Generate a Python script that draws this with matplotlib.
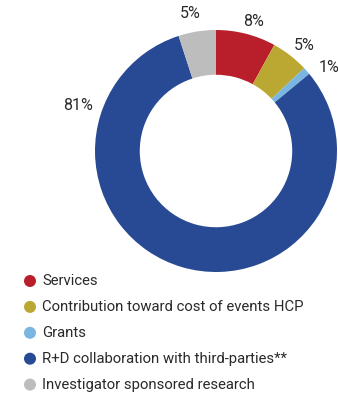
import matplotlib
matplotlib.use("Agg")
import matplotlib.pyplot as plt
import matplotlib.patches as mpatches

categories = ["Services", "Contribution toward cost of events HCP", "Grants",
              "R+D collaboration with third-parties**", "Investigator sponsored research"]
values = [8, 5, 1, 81, 5]
labels = ["8%", "5%", "1%", "81%", "5%"]
colors = ["#B81F2A", "#BBA832", "#7AB6E2", "#284A95", "#BDBDBD"]

plt.rcParams["font.family"] = ["Roboto", "DejaVu Sans"]

W, H = 338, 396
fig = plt.figure(figsize=(W / 100, H / 100), dpi=100)
cx, cy, R = 216, 151, 121
ax = fig.add_axes([(cx - R) / W, (H - cy - R) / H, 2 * R / W, 2 * R / H])
ax.pie(values, colors=colors, startangle=90, counterclock=False,
       radius=1, wedgeprops=dict(width=0.37, linewidth=0))
ax.set_xlim(-1, 1)
ax.set_ylim(-1, 1)
ax.axis("off")

# label positions in pixel coords (layout)
label_pos = [(254, 21), (304, 45), (329, 67), (78, 106), (190, 14)]
for lab, (px, py) in zip(labels, label_pos):
    fig.text(px / W, 1 - py / H, lab, ha="center", va="center",
             fontsize=11.5, color="#2a2a2a")

# legend
for i, (cat, col) in enumerate(zip(categories, colors)):
    y = 281 + i * 25.9
    fig.add_artist(mpatches.Ellipse((30 / W, 1 - y / H), 12 / W, 12 / H,
                                    transform=fig.transFigure, color=col, lw=0))
    fig.text(42 / W, 1 - y / H, cat, ha="left", va="center", fontsize=10.7,
             color="#2a2a2a")

fig.savefig("out.png", dpi=100)
